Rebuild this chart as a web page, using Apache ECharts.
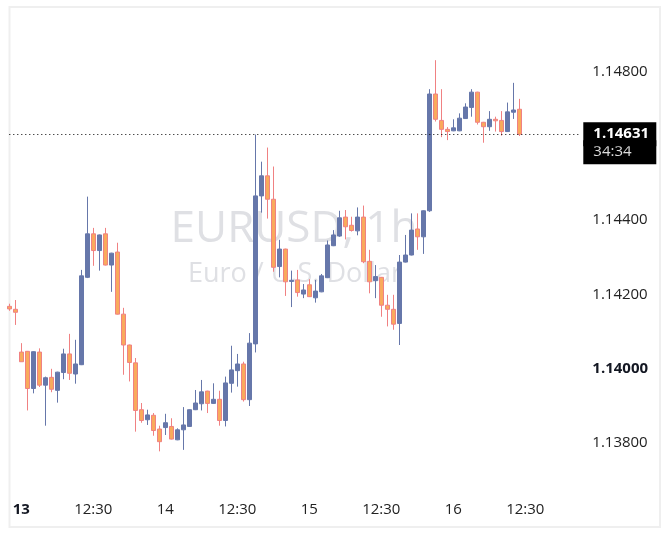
<!DOCTYPE html>
<html>
<head>
<meta charset="utf-8">
<title>EURUSD, 1h</title>
<script src="https://cdn.jsdelivr.net/npm/echarts@6/dist/echarts.min.js"></script>
<style>
  html, body { margin: 0; padding: 0; background: #fff; }
  #chart { width: 670px; height: 536px; }
</style>
</head>
<body>
<div id="chart"></div>
<script>
// hourly EURUSD bars
const openPx = [
  1.14168, 1.14160, 1.14045, 1.14047, 1.13947, 1.14045, 1.13956, 1.13977, 1.13942, 1.13990,
  1.14040, 1.13986, 1.14011, 1.14246, 1.14363, 1.14318, 1.14363, 1.14279, 1.14314, 1.14147,
  1.14064, 1.14016, 1.13890, 1.13863, 1.13875, 1.13838, 1.13842, 1.13845, 1.13809, 1.13836,
  1.13845, 1.13890, 1.13906, 1.13940, 1.13907, 1.13918, 1.13861, 1.13961, 1.13995, 1.14013,
  1.13917, 1.14067, 1.14465, 1.14519, 1.14456, 1.14275, 1.14322, 1.14235, 1.14239, 1.14201,
  1.14226, 1.14191, 1.14207, 1.14245, 1.14331, 1.14357, 1.14408, 1.14386, 1.14371, 1.14408,
  1.14289, 1.14237, 1.14246, 1.14171, 1.14160, 1.14122, 1.14287, 1.14306, 1.14376, 1.14355,
  1.14425, 1.14739, 1.14668, 1.14644, 1.14640, 1.14640, 1.14673, 1.14703, 1.14744, 1.14663,
  1.14651, 1.14671, 1.14668, 1.14638, 1.14690, 1.14698
];
const closePx = [
  1.14161, 1.14152, 1.14019, 1.13947, 1.14046, 1.13956, 1.13976, 1.13945, 1.13991, 1.14040,
  1.13988, 1.14013, 1.14250, 1.14363, 1.14318, 1.14360, 1.14279, 1.14311, 1.14147, 1.14064,
  1.14017, 1.13888, 1.13861, 1.13876, 1.13834, 1.13804, 1.13855, 1.13811, 1.13836, 1.13849,
  1.13890, 1.13908, 1.13938, 1.13907, 1.13918, 1.13861, 1.13962, 1.13997, 1.14013, 1.13917,
  1.14069, 1.14465, 1.14519, 1.14456, 1.14273, 1.14322, 1.14234, 1.14238, 1.14205, 1.14212,
  1.14194, 1.14209, 1.14250, 1.14333, 1.14360, 1.14406, 1.14382, 1.14372, 1.14408, 1.14288,
  1.14234, 1.14248, 1.14171, 1.14160, 1.14120, 1.14287, 1.14306, 1.14373, 1.14355, 1.14425,
  1.14739, 1.14671, 1.14644, 1.14638, 1.14648, 1.14674, 1.14704, 1.14744, 1.14663, 1.14651,
  1.14671, 1.14667, 1.14638, 1.14691, 1.14696, 1.14631
];
const lowPx = [
  1.14156, 1.14118, 1.14019, 1.13888, 1.13934, 1.13951, 1.13847, 1.13937, 1.13909, 1.13972,
  1.13970, 1.13960, 1.14010, 1.14244, 1.14277, 1.14264, 1.14278, 1.14207, 1.14146, 1.13984,
  1.13966, 1.13831, 1.13855, 1.13849, 1.13820, 1.13778, 1.13822, 1.13810, 1.13808, 1.13782,
  1.13844, 1.13889, 1.13888, 1.13881, 1.13906, 1.13847, 1.13845, 1.13936, 1.13952, 1.13912,
  1.13900, 1.14044, 1.14420, 1.14404, 1.14261, 1.14246, 1.14196, 1.14166, 1.14194, 1.14190,
  1.14193, 1.14178, 1.14206, 1.14244, 1.14330, 1.14355, 1.14348, 1.14369, 1.14359, 1.14284,
  1.14203, 1.14190, 1.14140, 1.14114, 1.14105, 1.14064, 1.14286, 1.14305, 1.14320, 1.14309,
  1.14422, 1.14665, 1.14623, 1.14615, 1.14639, 1.14639, 1.14672, 1.14678, 1.14657, 1.14608,
  1.14640, 1.14638, 1.14627, 1.14637, 1.14672, 1.14626
];
const highPx = [
  1.14175, 1.14185, 1.14069, 1.14048, 1.14047, 1.14055, 1.13979, 1.14000, 1.13992, 1.14054,
  1.14094, 1.14078, 1.14266, 1.14463, 1.14379, 1.14361, 1.14379, 1.14312, 1.14339, 1.14164,
  1.14065, 1.14029, 1.13908, 1.13890, 1.13881, 1.13847, 1.13879, 1.13867, 1.13840, 1.13897,
  1.13891, 1.13943, 1.13970, 1.13941, 1.13961, 1.13941, 1.13979, 1.14062, 1.14040, 1.14019,
  1.14096, 1.14630, 1.14557, 1.14595, 1.14544, 1.14347, 1.14323, 1.14264, 1.14266, 1.14228,
  1.14241, 1.14239, 1.14255, 1.14345, 1.14373, 1.14425, 1.14427, 1.14409, 1.14434, 1.14439,
  1.14320, 1.14279, 1.14247, 1.14199, 1.14199, 1.14306, 1.14360, 1.14418, 1.14418, 1.14426,
  1.14752, 1.14830, 1.14752, 1.14650, 1.14671, 1.14687, 1.14714, 1.14752, 1.14745, 1.14664,
  1.14693, 1.14678, 1.14693, 1.14716, 1.14769, 1.14726
];

const priceTicks = [1.138, 1.140, 1.142, 1.144, 1.146, 1.148];
const boldPrice = 1.14;
const boldDay = 13;
const countdown = '34:34';

// bars open at hh:30, the first one on the 12th at 22:30; room left for future slots
const firstDay = 12, firstHour = 22, slotCount = 96;
const slots = [];
for (let i = 0; i < slotCount; i++) {
  const h = firstHour + i;
  slots.push({ day: firstDay + Math.floor(h / 24), hour: h % 24 });
}
const categories = slots.map(s => s.day + ' ' + String(s.hour).padStart(2, '0') + ':30');

const candles = openPx.map((o, i) => [o, closePx[i], lowPx[i], highPx[i]]);
const lastPrice = closePx[closePx.length - 1];

const font = '"Open Sans", sans-serif';
const upColor = '#6677aa';
const downFill = '#f9aa5c';
const downLine = '#f08182';

let chart = echarts.init(document.getElementById('chart'));
chart.setOption({
  animation: false,
  backgroundColor: '#fff',
  grid: { left: 9.3, right: 90.7, top: 7, bottom: 43 },
  graphic: [
    {
      type: 'rect', silent: true,
      shape: { x: 9.5, y: 7, width: 650.5, height: 520 },
      style: { fill: 'none', stroke: '#efefef', lineWidth: 2 }
    },
    {
      type: 'text', silent: true, x: 294, y: 229,
      style: { text: 'EURUSD, 1h', fontFamily: font, fontSize: 44, fill: '#dfe0e4', align: 'center', verticalAlign: 'middle' }
    },
    {
      type: 'text', silent: true, x: 295, y: 274,
      style: { text: 'Euro / U.S. Dollar', fontFamily: font, fontSize: 27, fill: '#dfe0e4', align: 'center', verticalAlign: 'middle' }
    }
  ],
  xAxis: {
    type: 'category',
    data: categories,
    boundaryGap: false,
    axisLine: { show: false },
    axisTick: { show: false },
    splitLine: { show: false },
    axisLabel: {
      margin: 9,
      fontFamily: font,
      fontSize: 15,
      color: '#222',
      interval: (idx) => slots[idx].hour % 12 === 0,
      formatter: (val, idx) => {
        const s = slots[idx];
        if (s.hour !== 0) return String(s.hour).padStart(2, '0') + ':30';
        return s.day === boldDay ? '{b|' + s.day + '}' : String(s.day);
      },
      rich: { b: { fontFamily: font, fontSize: 15, fontWeight: 'bold', color: '#131722' } }
    }
  },
  yAxis: {
    type: 'value',
    position: 'right',
    min: 1.13666,
    max: 1.14973,
    axisLine: { show: false },
    axisTick: { show: false },
    splitLine: { show: false },
    axisLabel: {
      customValues: priceTicks,
      margin: 13,
      fontFamily: font,
      fontSize: 15,
      color: '#222',
      formatter: v => Math.abs(v - boldPrice) < 1e-9 ? '{b|' + v.toFixed(5) + '}' : v.toFixed(5),
      rich: { b: { fontFamily: font, fontSize: 15, fontWeight: 'bold', color: '#131722' } }
    }
  },
  series: [{
    type: 'candlestick',
    data: candles,
    barWidth: 4,
    clip: true,
    itemStyle: {
      color: upColor,
      borderColor: upColor,
      color0: downFill,
      borderColor0: downLine,
      borderWidth: 1
    },
    markLine: {
      silent: true,
      precision: 5,
      symbol: ['none', 'none'],
      lineStyle: { color: '#000', type: [1, 3], width: 1 },
      label: { show: true, position: 'end', distance: 4 },
      data: [
        // countdown box: sits under the price box, pushed down by an empty first row
        {
          yAxis: lastPrice,
          lineStyle: { color: 'rgba(0,0,0,0)' },
          label: {
            opacity: 1,
            formatter: '{s| }\n{t|' + countdown + '}',
            rich: {
              s: { lineHeight: 36, fontSize: 10 },
              t: { backgroundColor: '#000', color: '#dcdcdc', fontFamily: font, fontSize: 15,
                   height: 24, lineHeight: 24, width: 54, padding: [0, 9, 0, 10] }
            }
          }
        },
        // the dotted last-price line and its price box
        {
          yAxis: lastPrice,
          label: {
            formatter: lastPrice.toFixed(5),
            backgroundColor: '#000',
            color: '#fff',
            fontWeight: 'bold',
            fontFamily: font,
            fontSize: 15,
            lineHeight: 18,
            width: 54,
            padding: [3, 9, 3, 10]
          }
        }
      ]
    }
  }]
});
</script>
</body>
</html>
